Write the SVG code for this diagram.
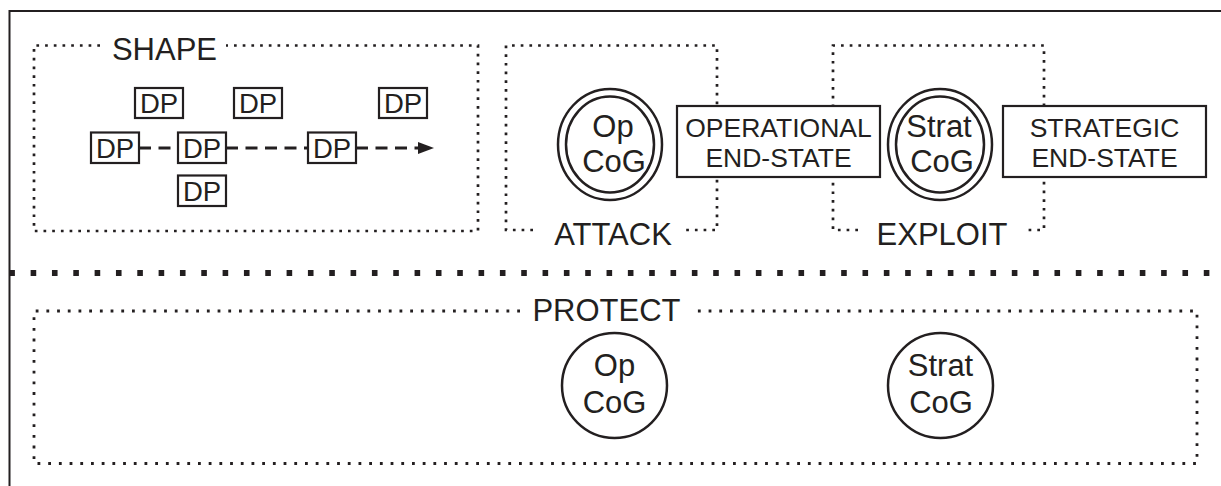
<svg xmlns="http://www.w3.org/2000/svg" width="1221" height="486" viewBox="0 0 1221 486">
  <style>
    .frame { stroke: #231f20; stroke-width: 2; fill: none; }
    .zone { stroke: #231f20; stroke-width: 2.7; fill: none; stroke-dasharray: 2.7 6; }
    .zone-wide { stroke: #231f20; stroke-width: 2.8; fill: none; stroke-dasharray: 2.8 7.9; }
    .divider { stroke: #231f20; stroke-width: 5.8; fill: none; stroke-dasharray: 5.6 15.73; }
    .box { stroke: #231f20; stroke-width: 2.2; fill: #fff; }
    .ring { stroke: #231f20; stroke-width: 2.5; fill: #fff; }
    .link { stroke: #231f20; stroke-width: 3.2; fill: none; stroke-dasharray: 12 7.5; }
    text { font-family: "Liberation Sans", Arial, sans-serif; fill: #231f20; text-anchor: middle; }
    .title { font-size: 31px; }
    .dp { font-size: 27.5px; }
    .cog { font-size: 31px; }
    .end { font-size: 26.5px; }
  </style>
  <defs>
    <marker id="arrow" markerUnits="userSpaceOnUse" markerWidth="16" markerHeight="12" refX="0" refY="6" orient="auto">
      <path d="M0,0 L16,6 L0,12 z" fill="#231f20"/>
    </marker>
  </defs>

  <!-- outer frame (open to the right and bottom) -->
  <path class="frame" d="M9.5,487 V11 H1222"/>

  <!-- divider between offensive and protective lines -->
  <line class="divider" x1="9.3" y1="273" x2="1212" y2="273"/>

  <!-- SHAPE zone -->
  <g id="shape">
    <path class="zone" d="M100,45.5 H34 V231 H478 V45.5 H226"/>
    <text class="title" x="164.5" y="60">SHAPE</text>
  </g>

  <!-- connectors between decisive points -->
  <g id="connectors">
    <line class="link" x1="139" y1="148" x2="178" y2="148"/>
    <line class="link" x1="226" y1="148" x2="308" y2="148"/>
    <line class="link" x1="356" y1="148" x2="418" y2="148" marker-end="url(#arrow)"/>
  </g>

  <!-- decisive points -->
  <g id="dp-top-1"><rect class="box" x="135" y="88" width="48" height="30"/><text class="dp" x="159" y="113">DP</text></g>
  <g id="dp-top-2"><rect class="box" x="234" y="88" width="48" height="30"/><text class="dp" x="258" y="113">DP</text></g>
  <g id="dp-top-3"><rect class="box" x="379" y="88" width="48" height="30"/><text class="dp" x="403" y="113">DP</text></g>
  <g id="dp-mid-1"><rect class="box" x="91" y="132.5" width="48" height="30.5"/><text class="dp" x="115" y="157.5">DP</text></g>
  <g id="dp-mid-2"><rect class="box" x="178" y="132.5" width="48" height="30.5"/><text class="dp" x="202" y="157.5">DP</text></g>
  <g id="dp-mid-3"><rect class="box" x="308" y="132.5" width="48" height="30.5"/><text class="dp" x="332" y="157.5">DP</text></g>
  <g id="dp-low"><rect class="box" x="178" y="175.5" width="48" height="30.5"/><text class="dp" x="202" y="200.5">DP</text></g>

  <!-- ATTACK zone -->
  <g id="attack">
    <path class="zone" d="M533,230 H506 V45.5 H717 V230 H683"/>
    <text class="title" x="613" y="245">ATTACK</text>
  </g>

  <!-- EXPLOIT zone -->
  <g id="exploit">
    <path class="zone" d="M858,230 H833 V45.5 H1044 V230 H1025"/>
    <text class="title" x="942" y="245">EXPLOIT</text>
  </g>

  <!-- operational centre of gravity (attacked) -->
  <g id="op-cog-attack">
    <ellipse class="ring" cx="610" cy="144.5" rx="52" ry="55.5"/>
    <ellipse class="ring" cx="610" cy="144.5" rx="44" ry="48"/>
    <text class="cog" x="613" y="137">Op</text>
    <text class="cog" x="614" y="172">CoG</text>
  </g>

  <!-- operational end-state -->
  <g id="op-end-state">
    <rect class="box" x="677" y="106" width="203" height="71"/>
    <text class="end" x="778.5" y="137">OPERATIONAL</text>
    <text class="end" x="778.5" y="167">END-STATE</text>
  </g>

  <!-- strategic centre of gravity (exploited) -->
  <g id="strat-cog-exploit">
    <ellipse class="ring" cx="940" cy="144.5" rx="52" ry="55.5"/>
    <ellipse class="ring" cx="940" cy="144.5" rx="44" ry="48"/>
    <text class="cog" x="939" y="137">Strat</text>
    <text class="cog" x="942" y="172">CoG</text>
  </g>

  <!-- strategic end-state -->
  <g id="strat-end-state">
    <rect class="box" x="1003" y="106" width="203" height="71"/>
    <text class="end" x="1104.5" y="137">STRATEGIC</text>
    <text class="end" x="1104.5" y="167">END-STATE</text>
  </g>

  <!-- PROTECT zone -->
  <g id="protect">
    <path class="zone-wide" d="M520,311 H34 V463.5 H1197 V311 H694"/>
    <text class="title" x="606.5" y="321">PROTECT</text>
  </g>

  <g id="op-cog-protect">
    <circle class="ring" cx="614.5" cy="385.5" r="52.5"/>
    <text class="cog" x="614.5" y="376">Op</text>
    <text class="cog" x="614.5" y="413">CoG</text>
  </g>

  <g id="strat-cog-protect">
    <circle class="ring" cx="940.5" cy="385.5" r="52.5"/>
    <text class="cog" x="940.5" y="376">Strat</text>
    <text class="cog" x="941" y="413">CoG</text>
  </g>
</svg>
